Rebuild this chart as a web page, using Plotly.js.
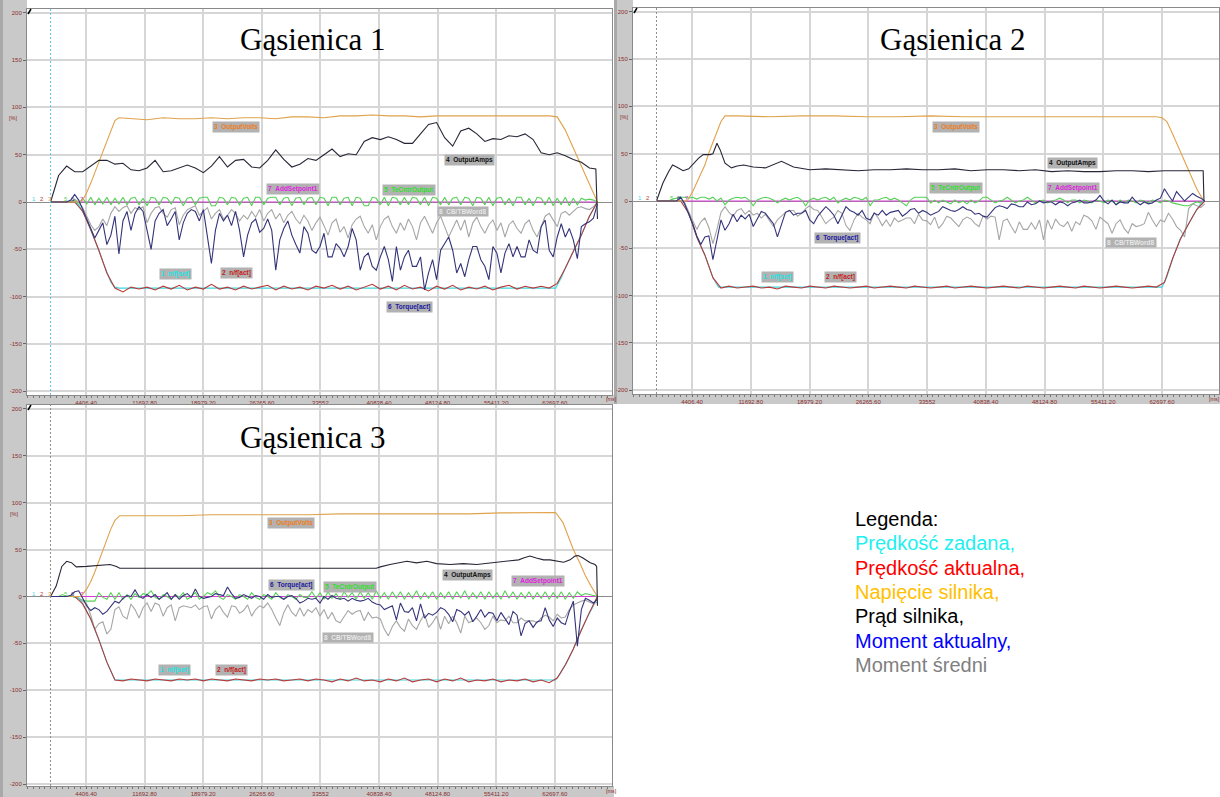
<!DOCTYPE html>
<html><head><meta charset="utf-8">
<script src="https://cdn.plot.ly/plotly-3.0.1.min.js"></script>
<style>html,body{margin:0;padding:0;background:#fff;}#chart{width:1220px;height:797px;}</style>
</head><body><div id="chart"></div>
<script>
// ---------- sampling times [ms] ----------
const T1 = [0,1000,2000,3000,4000,5000,6000,7000,8000,9000,10000,11000,12000,13000,14000,15000,16000,17000,18000,19000,20000,21000,22000,23000,24000,25000,26000,27000,28000,29000,30000,31000,32000,33000,34000,35000,36000,37000,38000,39000,40000,41000,42000,43000,44000,45000,46000,47000,48000,49000,50000,51000,52000,53000,54000,55000,56000,57000,58000,59000,60000,61000,62000,63000,64000,65000,66000,67000,68000];
const T5 = [0,500,1000,1500,2000,2500,3000,3500,4000,4500,
5000,5500,6000,6500,7000,7500,8000,8500,9000,9500,
10000,10500,11000,11500,12000,12500,13000,13500,14000,14500,
15000,15500,16000,16500,17000,17500,18000,18500,19000,19500,
20000,20500,21000,21500,22000,22500,23000,23500,24000,24500,
25000,25500,26000,26500,27000,27500,28000,28500,29000,29500,
30000,30500,31000,31500,32000,32500,33000,33500,34000,34500,
35000,35500,36000,36500,37000,37500,38000,38500,39000,39500,
40000,40500,41000,41500,42000,42500,43000,43500,44000,44500,
45000,45500,46000,46500,47000,47500,48000,48500,49000,49500,
50000,50500,51000,51500,52000,52500,53000,53500,54000,54500,
55000,55500,56000,56500,57000,57500,58000,58500,59000,59500,
60000,60500,61000,61500,62000,62500,63000,63500,64000,64500,
65000,65500,66000,66500,67000,67500,68000];
const magT = [3000,68000];
const magV = [0,0];

// ---------- axis tick labels ----------
const xTickVals = [4406.4,11692.8,18979.2,26265.6,33552,40838.4,48124.8,55411.2,62697.6];
const xTickText = ['4406.40','11692.80','18979.20','26265.60','33552','40838.40','48124.80','55411.20','62697.60'];
const yTickVals = [-200,-150,-100,-50,0,50,100,150,200];
const yTickText = ['-200','-150','-100','-50','0','50','100','150','200'];

// ================= Gąsienica 1 =================
const setT1 = [0,3000,3500,4000,4500,5000,5500,6000,6500,7000,7500,8000,8500,62800,63500,64000,65000,66000,67000,68000];
const setV1 = [0,0,-3,-10,-19,-29,-40,-51,-63,-75,-85,-90,-91,-91,-80,-70,-52,-35,-15,0];
const act1 = [0,0,0,0,-10,-29,-51,-75,-91,-95,
-90,-92,-90,-93,-89,-92,-88,-93,-90,-92,
-87,-92,-90,-93,-89,-92,-90,-88,-93,-89,
-92,-90,-93,-89,-91,-88,-92,-89,-93,-90,
-87,-92,-89,-93,-88,-92,-90,-94,-89,-92,
-88,-93,-90,-92,-89,-93,-90,-88,-92,-89,
-91,-89,-91,-86,-70,-52,-35,-15,0];
const voltT1 = [0,3500,4000,4500,5000,5500,6000,6500,7000,7500,8000,8500,10000,12000,14000,16000,18000,20000,22000,24000,26000,28000,30000,32000,34000,36000,38000,40000,42000,44000,46000,48000,50000,52000,54000,56000,58000,60000,62000,63000,64000,65000,66000,67000,68000];
const voltV1 = [0,0,2,10,20,31,42,54,66,77,86,89,88,87,89,88,88,89,88,89,89,88,90,90,89,91,91,92,91,91,90,91,91,91,91,91,91,91,91,90,76,57,37,19,0];
const ampT1 = [0,1000,2000,3000,4000,5000,6000,7000,8000,9000,10000,11000,12000,13000,14000,15000,16000,17000,18000,19000,20000,21000,22000,23000,24000,25000,26000,27000,28000,29000,30000,31000,32000,33000,34000,35000,36000,37000,38000,39000,40000,41000,42000,43000,44000,45000,46000,47000,48000,49000,50000,51000,52000,53000,54000,55000,56000,57000,58000,59000,60000,61000,62000,63000,64000,65000,66000,67000,67800,68000];
const ampV1 = [0,28,38,32,32,38,44,44,40,41,
34,33,36,44,32,33,36,39,36,31,
38,48,37,44,45,37,36,44,55,45,
37,40,46,44,50,56,48,51,50,64,
68,66,69,66,62,62,72,82,84,68,
59,75,78,72,64,67,66,70,69,72,
66,52,50,52,49,45,42,36,35,-18];
const te1 = [0,0,0,0,0,1,2,-3,4,-2,
5,-3,4,-2,5,-3,4,-2,5,-3,
4,5,-3,4,-4,5,4,-3,5,4,
-2,5,4,-4,4,5,-3,4,5,5,
-4,-4,5,4,-3,5,4,-3,4,5,
-4,5,5,-3,4,5,5,-3,4,5,
-4,4,5,-3,4,5,-3,5,4,-4,
5,5,-3,4,5,-4,5,4,-4,-4,
5,4,-3,5,-4,5,4,-3,5,-3,
5,4,-3,5,-4,5,4,-3,5,-3,
4,5,-3,5,4,-4,5,4,-3,5,
-4,4,5,-3,4,-4,5,5,-3,4,
-4,5,4,-3,5,-4,4,-3,5,-4,
4,-3,4,2,3,2,0];
const tq1 = [0,0,0,0,0,2,8,2,-8,-18,
-28,-38,-30,-22,-45,-35,-15,-55,-20,-10,
-30,-12,-5,-10,-30,-50,-20,-12,-8,-25,
-18,-10,-40,-22,-12,-8,-10,-20,-8,-35,
-65,-30,-12,-20,-14,-25,-10,-30,-58,-35,
-22,-18,-32,-28,-18,-30,-72,-40,-28,-20,
-35,-45,-54,-26,-33,-51,-54,-47,-33,-58,
-58,-44,-49,-58,-47,-28,-40,-72,-58,-54,
-68,-72,-58,-47,-61,-84,-47,-72,-58,-51,
-68,-68,-58,-93,-75,-61,-82,-51,-44,-37,
-51,-75,-65,-79,-61,-47,-47,-61,-68,-82,
-47,-54,-75,-54,-44,-58,-47,-58,-58,-40,
-51,-54,-26,-19,-51,-58,-37,-23,-37,-28,
-40,-60,-26,-23,-21,-17,-2];
const cb1 = [0,0,0,0,0,0,3,0,-6,-15,
-24,-30,-26,-18,-25,-12,-5,-10,-6,-4,
-12,-6,-8,-5,-22,-12,-6,-5,-12,-16,
-8,-6,-24,-14,-8,-6,-4,-14,-10,-6,
-18,-12,-8,-18,-14,-8,-12,-20,-14,-18,
-10,-16,-8,-20,-12,-8,-18,-12,-22,-14,
-10,-18,-23,-14,-20,-30,-22,-16,-25,-35,
-22,-18,-32,-26,-38,-24,-18,-15,-26,-33,
-24,-40,-26,-18,-15,-26,-33,-22,-30,-18,
-26,-40,-22,-15,-24,-33,-22,-15,-26,-37,
-28,-19,-30,-19,-37,-22,-16,-26,-33,-24,
-19,-30,-22,-37,-24,-20,-28,-33,-23,-19,
-30,-37,-26,-15,-12,-19,-26,-12,-10,-14,
-10,-6,-5,-7,-8,-5,0];

// ================= Gąsienica 2 =================
const setT2 = [0,3300,4000,5000,6000,7000,7700,62700,63300,64100,64900,65800,66600,67400,67800];
const setV2 = [0,0,-13,-38,-57,-81,-91,-91,-80,-59,-41,-27,-15,-4,0];
const act2 = [0,0,0,0,-13,-38,-57,-81,-92,-90,
-92,-91,-90,-92,-91,-93,-90,-91,-92,-90,
-91,-92,-90,-91,-92,-91,-90,-92,-91,-90,
-91,-92,-90,-91,-92,-91,-90,-92,-91,-90,
-91,-92,-91,-90,-91,-92,-90,-91,-92,-91,
-90,-91,-92,-90,-91,-92,-91,-90,-91,-92,
-91,-90,-91,-86,-61,-40,-24,-9,0];
const voltT2 = [0,3800,4500,5000,5500,6000,6500,7000,7500,8000,8500,10000,14000,18000,22000,26000,30000,34000,38000,42000,46000,50000,54000,58000,62000,62700,63300,64000,64500,65000,65800,66500,67000,67800];
const voltV2 = [0,0,10,19,29,38,51,62,73,84,90,90,89,90,90,89,89,90,89,89,89,89,89,89,89,88,84,71,61,51,36,22,13,1];
const ampT2 = [0,800,1500,2000,2500,3300,4000,5200,5800,6600,7000,7500,7900,8500,9300,10000,10800,12000,13500,15500,17000,19000,21000,23000,25000,27000,29000,31000,33000,35000,37000,39000,41000,43000,45000,47000,49000,51000,53000,55000,57000,59000,61000,63000,65000,67000,67800,67900];
const ampV2 = [0,19,31,38,36,32,34,45,49,49,50,61,54,40,35,37,38,36,35,42,36,33,34,33,32,33,33,34,33,33,34,32,33,33,32,33,31,32,31,31,32,32,31,32,32,32,32,0];
const te2 = [0,0,0,0,2,3,4,4,3,4,
2,4,4,2,4,0,3,-4,1,3,
4,3,4,1,-5,1,3,4,3,1,
-2,1,3,1,3,4,1,-5,1,3,
1,3,4,1,4,-2,1,3,1,4,
3,1,4,-5,1,1,3,4,1,3,
1,-2,-5,1,4,4,4,4,-2,1,
-2,1,-1,-3,1,-2,0,-3,1,-2,
0,4,4,1,-2,0,1,4,1,-2,
0,1,4,1,-2,0,1,-2,0,1,
3,1,-2,1,1,-2,1,0,-2,1,
0,-2,1,0,-4,1,-2,1,0,-2,
1,0,-2,1,0,-2,1,0,-2,-3,
-4,-5,-5,-3,-1,-2,0];
const tq2 = [0,0,0,0,0,0,4,-3,-14,-24,
-37,-46,-38,-37,-62,-40,-20,-31,-24,-14,
-22,-15,-19,-14,-27,-19,-11,-13,-19,-24,
-38,-24,-12,-10,-15,-13,-13,-10,-20,-24,
-16,-11,-6,-10,-15,-24,-15,-6,-10,-12,
-15,-10,-18,-20,-13,-15,-10,-15,-12,-11,
-10,-16,-13,-9,-8,-13,-10,-12,-15,-13,
-11,-6,-8,-10,-11,-9,-6,-9,-10,-14,
-13,-16,-17,-12,-7,-5,-6,-8,-3,-4,
-6,-6,-1,-4,-3,0,-2,-1,-1,-4,
-1,-2,-5,-2,-1,1,-2,-2,-1,1,
6,0,-3,1,-4,-1,-2,-2,4,-1,
-4,-1,-3,-2,1,3,13,6,0,10,
5,0,4,8,5,3,0];
const cb2 = [0,0,0,0,0,0,0,-2,-12,-20,
-30,-22,-18,-28,-45,-30,-12,-6,-12,-16,
-10,-8,-14,-10,-15,-13,-18,-14,-20,-27,
-20,-16,-12,-10,-10,-16,-13,-8,-5,-9,
-10,-17,-24,-20,-17,-10,-13,-26,-31,-20,
-13,-17,-20,-24,-12,-18,-26,-20,-27,-18,
-22,-20,-18,-18,-24,-14,-20,-21,-25,-17,
-29,-24,-16,-18,-22,-27,-20,-17,-19,-24,
-27,-16,-19,-16,-17,-41,-21,-19,-27,-34,
-22,-30,-30,-23,-30,-20,-41,-20,-30,-19,
-25,-27,-22,-32,-22,-25,-15,-17,-21,-30,
-17,-21,-24,-34,-24,-20,-29,-34,-24,-27,
-26,-24,-12,-20,-27,-20,-22,-13,-19,-27,
-31,-38,-8,-3,-5,-7,-3];

// ================= Gąsienica 3 =================
const setT3 = [0,3400,4000,5000,6000,7000,8000,62800,63300,64200,65000,65800,66700,67500,68000];
const setV3 = [0,0,-8,-24,-46,-70,-89,-89,-83,-70,-56,-39,-23,-10,0];
const act3 = [0,0,0,0,-8,-24,-46,-70,-89,-90,
-88,-89,-90,-88,-89,-90,-88,-89,-88,-90,
-88,-89,-90,-88,-89,-90,-88,-89,-88,-90,
-89,-88,-90,-88,-89,-91,-88,-90,-87,-90,
-89,-91,-88,-90,-87,-91,-89,-88,-91,-88,
-90,-87,-91,-89,-90,-88,-91,-89,-90,-88,
-91,-89,-92,-87,-73,-56,-36,-17,0];
const voltT3 = [0,3800,4500,5000,5500,6000,6500,7000,7500,8000,8600,12000,16000,20000,24000,28000,32000,36000,40000,44000,48000,52000,56000,60000,62800,63700,64500,65000,65800,66500,67200,68000];
const voltV3 = [0,0,8,16,26,38,50,61,72,81,86,86,86,87,87,87,87,88,88,88,88,88,89,89,89.5,79,62,50,36,22,11,0];
const ampT3 = [0,700,1400,2000,2600,3200,4500,6100,7400,8200,8600,12800,17000,21000,25000,29000,33500,37000,40500,41000,42200,44300,45500,46800,48000,49700,51300,53000,55000,57100,58200,58800,59600,60400,61300,62100,62900,63800,64600,65200,65600,66200,67100,67700,67900,68000];
const ampV3 = [0,11,32,37.5,36,31.5,32,33,34,32,30,30,30,30,30,30,30,30,30,31.5,34,37.5,35.8,37.5,35,34,35,34,35.8,37.5,39,41,43,41,39,39,37.5,36.5,39,43,43.6,41,36,34,32,-10];
const te3 = [0,0,0,2,0,1,-1,-2,-4,-5,
-5,-5,4,-1,-3,4,-3,4,-3,2,
-3,3,-1,3,2,6,-1,-3,2,0,
-3,2,-1,4,-3,0,4,-3,0,4,
2,6,-1,-3,2,0,-3,2,0,-3,
4,-1,-3,2,0,-3,4,-1,-3,2,
0,-3,2,-1,-1,5,-2,4,-3,5,
-2,3,-3,5,-1,4,-3,5,-2,4,
-3,6,-2,4,-3,5,-2,5,-3,4,
-2,6,-3,4,-2,5,-3,4,-2,5,
-3,5,-2,6,-3,4,-2,5,-3,5,
-2,4,-3,6,-2,5,-3,4,-2,5,
-3,4,-2,5,-3,4,-2,5,-3,4,
-2,5,1,3,2,1,0];
const tq3 = [0,0,0,0,0,1,5,6,-2,-10,
-15,-12,-14,-19,-16,-10,-5,-7,-2,1,
0,7,0,-2,2,-1,2,-3,0,4,
-3,2,-3,1,3,-1,8,0,-2,-1,
0,3,2,1,10,3,-2,-1,2,0,
-2,1,0,-3,2,-1,0,0,-3,0,
1,-2,-7,-5,-2,-3,-2,-7,0,-3,
1,-2,-3,-2,-5,-2,-4,-5,-4,-2,
-6,-8,-9,-14,-12,-10,-25,-7,-16,-17,
-12,-26,-8,-23,-18,-20,-17,-12,-14,-19,
-27,-14,-16,-20,-16,-27,-21,-14,-22,-17,
-18,-26,-17,-24,-30,-16,-20,-42,-29,-26,
-33,-27,-26,-12,-25,-32,-23,-28,-30,-16,
-5,-53,-14,-2,-4,-7,-3];
const cb3 = [0,0,0,0,0,0,0,-2,-5,-8,
-20,-35,-29,-27,-40,-35,-14,-11,-21,-24,
-8,-14,-23,-12,-7,-16,-7,-9,-21,-12,
-9,-26,-12,-10,-11,-12,-9,-14,-11,-10,
-24,-14,-10,-17,-22,-10,-11,-18,-15,-9,
-21,-14,-10,-12,-7,-14,-23,-31,-17,-9,
-17,-21,-12,-21,-14,-17,-12,-21,-14,-24,
-17,-26,-28,-21,-15,-19,-16,-15,-26,-17,
-23,-22,-24,-35,-42,-32,-26,-33,-37,-24,
-31,-35,-26,-19,-33,-28,-21,-35,-21,-29,
-21,-28,-39,-21,-28,-26,-23,-28,-35,-31,
-21,-28,-25,-26,-21,-28,-28,-23,-26,-26,
-26,-28,-23,-20,-22,-26,-19,-23,-22,-14,
-9,-7,-5,-4,-6,-8,-6];

// ---------- layout helpers (pixel -> paper) ----------
const W = 1220, H = 797;
const PX = x => x / W;
const PY = y => 1 - y / H;
const COL = {set:'#3ed6e0', act:'#b83a3a', volts:'#e0a24c', amps:'#262636', te:'#56d056', tq:'#34347a', add:'#d83cd8', cb:'#a6a6a6'};
const LBL = {set:'#22e2e2', act:'#c81818', volts:'#f07c1c', amps:'#111111', te:'#2ee02e', tq:'#1a1aa0', add:'#e01ee0', cb:'#e8e8e8'};

const panels = [
  {xa:'x', ya:'y', set:[setT1,setV1], act:[T1,act1], volts:[voltT1,voltV1], amps:[ampT1,ampV1], te:[T5,te1], tq:[T5,tq1], cb:[T5,cb1]},
  {xa:'x2', ya:'y2', set:[setT2,setV2], act:[T1,act2], volts:[voltT2,voltV2], amps:[ampT2,ampV2], te:[T5,te2], tq:[T5,tq2], cb:[T5,cb2]},
  {xa:'x3', ya:'y3', set:[setT3,setV3], act:[T1,act3], volts:[voltT3,voltV3], amps:[ampT3,ampV3], te:[T5,te3], tq:[T5,tq3], cb:[T5,cb3]}
];
const traces = [];
panels.forEach(p => {
  const add = (key, xy) => traces.push({type:'scatter', mode:'lines', x:xy[0], y:xy[1], xaxis:p.xa, yaxis:p.ya,
    line:{color:COL[key], width:1.1}, hoverinfo:'skip', showlegend:false});
  add('add', [magT, magV]);
  add('te', p.te);
  add('cb', p.cb);
  add('set', p.set);
  add('act', p.act);
  add('volts', p.volts);
  add('amps', p.amps);
  add('tq', p.tq);
});

function xAxis(l, r, range) {
  return {domain:[PX(l), PX(r)], range:range, tickmode:'array', tickvals:xTickVals, ticktext:xTickText,
    tickfont:{family:'Arial, Liberation Sans, sans-serif', size:6, color:'#8b2e2e'},
    ticks:'outside', ticklen:2, tickcolor:'#666', showgrid:true, gridcolor:'#d6d6d6', gridwidth:2,
    zeroline:false, showline:true, linecolor:'#8a8a8a', linewidth:1, mirror:true, fixedrange:true,
    minor:{ticks:'outside', ticklen:1.5, tickcolor:'#777', tick0:4406.4, dtick:728.64, showgrid:false}};
}
function yAxis(top, bot, range) {
  return {domain:[PY(bot), PY(top)], range:range, tickmode:'array', tickvals:yTickVals, ticktext:yTickText,
    tickfont:{family:'Arial, Liberation Sans, sans-serif', size:6, color:'#8b2e2e'},
    ticks:'outside', ticklen:3, tickcolor:'#666', showgrid:true, gridcolor:'#d6d6d6', gridwidth:2,
    zeroline:true, zerolinecolor:'#8c8c8c', zerolinewidth:1, showline:true, linecolor:'#8a8a8a', linewidth:1,
    mirror:true, fixedrange:true};
}

// ---------- shapes: gray rulers, cursor lines ----------
const shapes = [];
function rect(x0,y0,x1,y1,fill){shapes.push({type:'rect', xref:'paper', yref:'paper', x0:PX(x0), x1:PX(x1), y0:PY(y1), y1:PY(y0), fillcolor:fill, line:{width:0}, layer:'below'});}
rect(0,0,27,404,'#c9c9c9'); rect(0,395,614,404,'#c9c9c9');
rect(614,0,633,404,'#c9c9c9'); rect(614,394,1220,404,'#c9c9c9');
rect(0,404,27,797,'#c9c9c9'); rect(0,786,614,797,'#c9c9c9');
rect(0,0,3,404,'#a9a9a9'); rect(614,0,617,404,'#a9a9a9'); rect(0,404,3,797,'#a9a9a9');
[['x','y','#58c8e8'],['x2','y2','#8c8c8c'],['x3','y3','#8c8c8c']].forEach(a => {
  shapes.push({type:'line', xref:a[0], yref:a[1]+' domain', x0:0, x1:0, y0:0, y1:1, line:{color:a[2], width:1, dash:'2px,2px'}, layer:'above'});
});
[[28,14,31,9],[634,13,637,8],[28,410,31,405]].forEach(s => {
  shapes.push({type:'line', xref:'paper', yref:'paper', x0:PX(s[0]), y0:PY(s[1]), x1:PX(s[2]), y1:PY(s[3]), line:{color:'#000', width:1.5}});
});

// ---------- annotations ----------
const annotations = [];
function txt(x, y, text, font, extra) {
  annotations.push(Object.assign({xref:'paper', yref:'paper', x:PX(x), y:PY(y), text:text, showarrow:false,
    xanchor:'center', yanchor:'middle', font:font}, extra || {}));
}
const serif = 'Liberation Serif, Times New Roman, serif';
const sans = 'Arial, Liberation Sans, sans-serif';
txt(313, 40, 'Gąsienica 1', {family:serif, size:31, color:'#000'});
txt(952, 40, 'Gąsienica 2', {family:serif, size:31, color:'#000'});
txt(313, 437, 'Gąsienica 3', {family:serif, size:31, color:'#000'});

const boxes = [
  [236,127,'3  OutputVolts','volts'],[469,160,'4  OutputAmps','amps'],[293,189,'7  AddSetpoint1','add'],
  [409,190,'5  TeCntrOutput','te'],[463,212,'8  CB/TBWord8','cb'],[175,274,'1  n/f[set]','set'],
  [236,273,'2  n/f[act]','act'],[409,307,'6  Torque[act]','tq'],
  [956,127,'3  OutputVolts','volts'],[1072,163,'4  OutputAmps','amps'],[956,188,'5  TeCntrOutput','te'],
  [1073,188,'7  AddSetpoint1','add'],[1131,242,'8  CB/TBWord8','cb'],[837,238,'6  Torque[act]','tq'],
  [777,277,'1  n/f[set]','set'],[840,277,'2  n/f[act]','act'],
  [291,523,'3  OutputVolts','volts'],[291,585,'6  Torque[act]','tq'],[174,670,'1  n/f[set]','set'],
  [231,670,'2  n/f[act]','act'],[350,587,'5  TeCntrOutput','te'],[348,637,'8  CB/TBWord8','cb'],
  [467,575,'4  OutputAmps','amps'],[538,581,'7  AddSetpoint1','add']
];
boxes.forEach(b => txt(b[0], b[1], '<b>' + b[2].replace(/ /g,'\u00a0') + '</b>', {family:sans, size:6.5, color:LBL[b[3]]}, {bgcolor:'#b2b2b2', borderpad:1}));

const marks = [
  [34,199,'1','set'],[42.5,199,'2','act'],[50,199,'3','volts'],[66,199,'5','te'],[73,199,'6','tq'],[81.5,199,'7','add'],
  [640,198,'1','set'],[648,198,'2','act'],[672,198,'5','te'],[679,198,'6','tq'],[687,198,'7','add'],
  [34,594,'1','set'],[42.5,594,'2','act'],[50,594,'3','volts'],[66,594,'5','te'],[73,594,'6','tq'],[81.5,594,'7','add']
];
marks.forEach(m => txt(m[0], m[1], m[2], {family:sans, size:6, color:COL[m[3]]}));

[[13,118],[624,117],[14,514]].forEach(p => txt(p[0], p[1], '[%]', {family:sans, size:5.5, color:'#8b2e2e'}));
[[611,399],[1214,399],[611,791]].forEach(p => txt(p[0], p[1], '[ms]', {family:sans, size:5.5, color:'#8b2e2e'}));

const legendLines = [
  ['Legenda:', '#000000'], ['Prędkość zadana,', '#22f0f0'], ['Prędkość aktualna,', '#ff0000'],
  ['Napięcie silnika,', '#ffc000'], ['Prąd silnika,', '#000000'], ['Moment aktualny,', '#0000ff'], ['Moment średni', '#808080']
];
legendLines.forEach((l, i) => txt(853, 519 + i * 24.3, l[0], {family:sans, size:20, color:l[1]}, {xanchor:'left'}));

const layout = {
  width:W, height:H, margin:{l:0, r:0, t:0, b:0}, paper_bgcolor:'#ffffff', plot_bgcolor:'#ffffff',
  showlegend:false,
  xaxis:Object.assign(xAxis(27, 612, [-2930, 69809]), {anchor:'y'}),
  yaxis:Object.assign(yAxis(9, 395, [-204,204]), {anchor:'x'}),
  xaxis2:Object.assign(xAxis(633, 1219, [-2911, 69765]), {anchor:'y2'}),
  yaxis2:Object.assign(yAxis(8, 394, [-204,204]), {anchor:'x2'}),
  xaxis3:Object.assign(xAxis(27, 612, [-2930, 69809]), {anchor:'y3'}),
  yaxis3:Object.assign(yAxis(405, 786, [-202,204]), {anchor:'x3'}),
  shapes:shapes, annotations:annotations
};
Plotly.newPlot('chart', traces, layout, {staticPlot:true, displayModeBar:false});
</script></body></html>
